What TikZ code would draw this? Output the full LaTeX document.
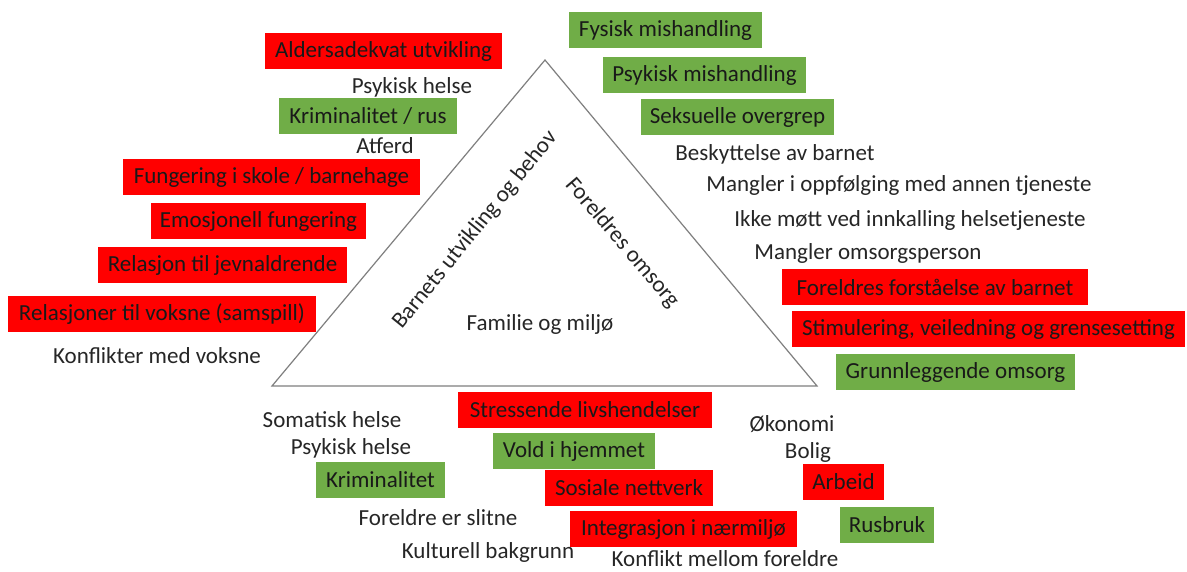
\documentclass[tikz,border=0pt]{standalone}
\usepackage{fontspec}
\setmainfont{Carlito}
\definecolor{gr}{HTML}{70AD47}
\definecolor{rd}{HTML}{FF0000}
\definecolor{tx}{HTML}{262626}
\definecolor{trl}{HTML}{7F7F7F}
\begin{document}
\begin{tikzpicture}[x=1pt,y=-1pt,
  font=\fontsize{23}{26}\selectfont,
  lbl/.style={text=tx, inner sep=0pt},
  rbox/.style={fill=rd, text=black!90, minimum width=#1, minimum height=36pt, inner sep=0pt},
  gbox/.style={fill=gr, text=black!90, minimum width=#1, minimum height=36pt, inner sep=0pt},
  tri/.style={draw=trl, line width=1.2pt, line join=miter}]
\useasboundingbox[fill=white] (0,0) rectangle (1187,572);
% triangle
\coordinate (A) at (545,60);
\coordinate (B) at (272,386);
\coordinate (C) at (817,386);
\draw[tri] (A) -- (B) -- (C) -- cycle;
\node[lbl, rotate=51] (barn) at (475,230) {Barnets utvikling og behov};
\node[lbl, rotate=-49.5] (fore) at (622,243) {Foreldres omsorg};
\node[lbl] (fam) at (540,324) {Familie og miljø};
% left side
\node[rbox=237] (ald) at (383.5,51) {Aldersadekvat utvikling};
\node[lbl] (psy1) at (412,87) {Psykisk helse};
\node[gbox=178] (krimrus) at (368,116) {Kriminalitet / rus};
\node[lbl] (atf) at (385,146) {Atferd};
\node[rbox=297] (fung) at (271.5,177.5) {Fungering i skole / barnehage};
\node[rbox=215] (emo) at (258.5,221.5) {Emosjonell fungering};
\node[rbox=249] (jevn) at (222.5,265.5) {Relasjon til jevnaldrende};
\node[rbox=308] (voks) at (162,314) {Relasjoner til voksne (samspill)};
\node[lbl] (konfv) at (157,356) {Konflikter med voksne};
% right side
\node[gbox=193] (fys) at (665.5,30.5) {Fysisk mishandling};
\node[gbox=203] (psym) at (704.5,75) {Psykisk mishandling};
\node[gbox=193] (seks) at (737.5,117.5) {Seksuelle overgrep};
\node[lbl] (besk) at (775,154) {Beskyttelse av barnet};
\node[lbl] (mang1) at (899,185) {Mangler i oppfølging med annen tjeneste};
\node[lbl] (ikke) at (910,220) {Ikke møtt ved innkalling helsetjeneste};
\node[lbl] (mang2) at (868,253) {Mangler omsorgsperson};
\node[rbox=306] (forst) at (935,287.5) {Foreldres forståelse av barnet};
\node[rbox=393] (stim) at (988.5,329) {Stimulering, veiledning og grensesetting};
\node[gbox=239] (grunn) at (955.5,372) {Grunnleggende omsorg};
% bottom
\node[lbl] (som) at (332,420) {Somatisk helse};
\node[lbl] (psy2) at (351,448) {Psykisk helse};
\node[gbox=129] (krim) at (380.5,479.5) {Kriminalitet};
\node[lbl] (slit) at (438,518) {Foreldre er slitne};
\node[lbl] (kult) at (488,552) {Kulturell bakgrunn};
\node[rbox=254] (stress) at (585,410) {Stressende livshendelser};
\node[gbox=162] (vold) at (574,451) {Vold i hjemmet};
\node[rbox=168] (sos) at (629,487.5) {Sosiale nettverk};
\node[rbox=227] (integ) at (683.5,529) {Integrasjon i nærmiljø};
\node[lbl] (konff) at (725,559) {Konflikt mellom foreldre};
\node[lbl] (okon) at (792,424) {Økonomi};
\node[lbl] (bolig) at (808,452) {Bolig};
\node[rbox=81] (arb) at (843.5,481.5) {Arbeid};
\node[gbox=94] (rus) at (887,525) {Rusbruk};
\end{tikzpicture}
\end{document}
